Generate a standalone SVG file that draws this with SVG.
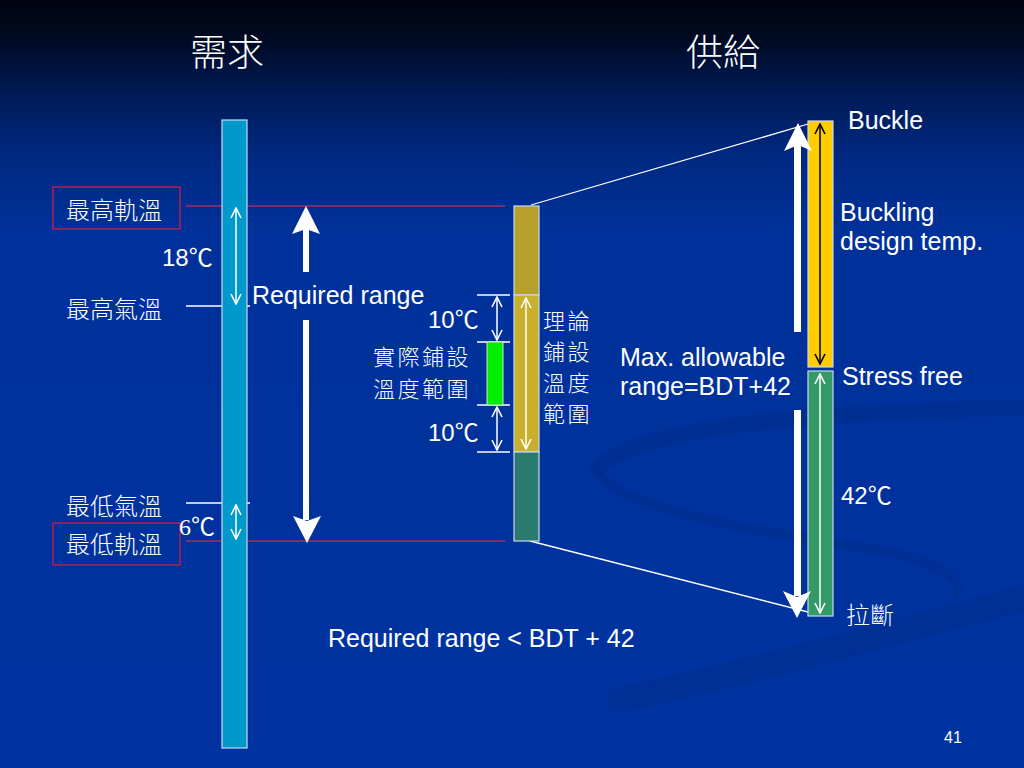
<svg xmlns="http://www.w3.org/2000/svg" width="1024" height="768" viewBox="0 0 1024 768">
<defs>
<linearGradient id="bg" x1="0" y1="0" x2="0" y2="1">
<stop offset="0" stop-color="#00040f"/>
<stop offset="0.05" stop-color="#000a22"/>
<stop offset="0.12" stop-color="#001a55"/>
<stop offset="0.2" stop-color="#00287f"/>
<stop offset="0.3" stop-color="#00319a"/>
<stop offset="1" stop-color="#0033a0"/>
</linearGradient>
<marker id="ow" viewBox="0 0 12 12" refX="11" refY="6" markerWidth="12" markerHeight="12" markerUnits="userSpaceOnUse" orient="auto-start-reverse">
<path d="M1,1 L11,6 L1,11" fill="none" stroke="#ffffff" stroke-width="1.6"/>
</marker>
<marker id="ob" viewBox="0 0 12 12" refX="11" refY="6" markerWidth="12" markerHeight="12" markerUnits="userSpaceOnUse" orient="auto-start-reverse">
<path d="M1,1 L11,6 L1,11" fill="none" stroke="#000000" stroke-width="1.6"/>
</marker>
<style>
.t{font-family:"Liberation Sans",Arial,"Noto Sans CJK TC",sans-serif;font-size:25px;fill:#ffffff}
.c{font-family:"Noto Sans CJK TC","Noto Sans CJK SC",sans-serif;font-size:24px;fill:#ffffff;font-weight:300}
.cs{font-family:"Noto Sans CJK TC","Noto Sans CJK SC",sans-serif;font-size:22px;fill:#ffffff;font-weight:300;letter-spacing:2.5px}
.deg{font-family:"Liberation Sans",Arial,"Noto Sans CJK TC",sans-serif;font-size:24px;fill:#ffffff}
.bar{stroke:#c8d8ee;stroke-width:1.2}
.thin{stroke:#ffffff;stroke-width:1.5;fill:none}
.red{stroke:#a0305f;stroke-width:1.5}
.box{fill:none;stroke:#b02050;stroke-width:1.5}
.sw{fill:none;stroke:#002a88;stroke-linecap:round;opacity:0.4}
</style>
</defs>
<rect x="0" y="0" width="1024" height="768" fill="url(#bg)"/>
<g id="background-swoosh">
<path class="sw" d="M598 468 C 640 425, 820 412, 1024 408" stroke-width="16"/>
<path class="sw" d="M598 470 C 610 510, 780 535, 890 552 C 950 565, 965 585, 955 595" stroke-width="10"/>
<path class="sw" d="M620 700 C 760 670, 920 625, 1024 598" stroke-width="26"/>
</g>

<g id="titles">
<text class="c" x="190" y="66" style="font-size:37px">需求</text>
<text class="c" x="686" y="66" style="font-size:37px">供給</text>
</g>

<g id="connectors">
<line class="red" x1="186" y1="206" x2="505" y2="206"/>
<line class="red" x1="186" y1="541" x2="505" y2="541"/>
<line class="thin" x1="186" y1="306" x2="250" y2="306"/>
<line class="thin" x1="186" y1="503" x2="250" y2="503"/>
<line x1="531" y1="205" x2="808" y2="124" stroke="#ffffff" stroke-width="1.3"/>
<line x1="530" y1="541" x2="808" y2="612" stroke="#ffffff" stroke-width="1.3"/>
</g>

<g id="demand-bar">
<rect class="bar" x="222" y="120" width="25" height="628" fill="#0099cc"/>
<line class="thin" x1="236" y1="208" x2="236" y2="304" marker-start="url(#ow)" marker-end="url(#ow)"/>
<line class="thin" x1="236" y1="505" x2="236" y2="539" marker-start="url(#ow)" marker-end="url(#ow)"/>
</g>

<g id="label-max-rail">
<rect class="box" x="53" y="187" width="127" height="42"/>
<text class="c" x="66" y="219">最高軌溫</text>
</g>
<g id="label-max-air">
<text class="c" x="66" y="318">最高氣溫</text>
</g>
<g id="label-min-air">
<text class="c" x="66" y="515">最低氣溫</text>
</g>
<g id="label-min-rail">
<rect class="box" x="53" y="523" width="127" height="42"/>
<text class="c" x="66" y="553">最低軌溫</text>
</g>
<g id="label-18">
<text class="deg" x="162" y="266">18℃</text>
</g>
<g id="label-6">
<text class="deg" x="179" y="535" style="font-family:'Liberation Serif','Noto Sans CJK TC',serif">6℃</text>
</g>

<g id="required-range">
<path d="M306 206 L320 234 L306 229 L292 234 Z" fill="#ffffff"/>
<rect x="303" y="228" width="6" height="44" fill="#ffffff"/>
<rect x="303" y="320" width="6" height="200" fill="#ffffff"/>
<path d="M307 543 L293 516 L307 521 L321 516 Z" fill="#ffffff"/>
<text class="t" x="252" y="304">Required range</text>
</g>

<g id="theory-bar">
<rect class="bar" x="514" y="206" width="25" height="89" fill="#b8a02c"/>
<rect class="bar" x="514" y="295" width="25" height="157" fill="#c8b02c"/>
<rect class="bar" x="514" y="452" width="25" height="89" fill="#2a7a70"/>
<line class="thin" x1="526" y1="298" x2="526" y2="449" marker-start="url(#ow)" marker-end="url(#ow)"/>
<text class="cs" x="543" y="329"><tspan x="543" y="329">理論</tspan><tspan x="543" y="360">鋪設</tspan><tspan x="543" y="391">溫度</tspan><tspan x="543" y="422">範圍</tspan></text>
</g>

<g id="actual-range">
<line class="thin" x1="477" y1="295" x2="510" y2="295" stroke-width="1.2"/>
<line class="thin" x1="477" y1="342" x2="510" y2="342" stroke-width="1.2"/>
<line class="thin" x1="477" y1="405" x2="510" y2="405" stroke-width="1.2"/>
<line class="thin" x1="477" y1="452" x2="510" y2="452" stroke-width="1.2"/>
<rect x="487" y="342" width="16" height="63" fill="#00ee00" stroke="#c8f0c8" stroke-width="1"/>
<line class="thin" x1="497" y1="297" x2="497" y2="340" marker-start="url(#ow)" marker-end="url(#ow)"/>
<line class="thin" x1="497" y1="407" x2="497" y2="450" marker-start="url(#ow)" marker-end="url(#ow)"/>
<text class="deg" x="428" y="328">10℃</text>
<text class="deg" x="428" y="441">10℃</text>
<text class="cs" x="373" y="365"><tspan x="373" y="365">實際鋪設</tspan><tspan x="373" y="397">溫度範圍</tspan></text>
</g>

<g id="supply-bar">
<rect class="bar" x="808" y="121" width="25" height="246" fill="#ffcc00"/>
<rect class="bar" x="808" y="371" width="25" height="245" fill="#339966"/>
<line x1="820" y1="124" x2="820" y2="364" stroke="#000000" stroke-width="1.5" marker-start="url(#ob)" marker-end="url(#ob)"/>
<line class="thin" x1="820" y1="374" x2="820" y2="613" marker-start="url(#ow)" marker-end="url(#ow)"/>
</g>

<g id="max-allowable">
<path d="M798 123 L812 151 L798 145 L784 151 Z" fill="#ffffff"/>
<rect x="794" y="144" width="7" height="188" fill="#ffffff"/>
<rect x="794" y="410" width="7" height="186" fill="#ffffff"/>
<path d="M797 618 L783 591 L797 597 L811 591 Z" fill="#ffffff"/>
<text class="t" x="620" y="366"><tspan x="620" y="366">Max. allowable</tspan><tspan x="620" y="395">range=BDT+42</tspan></text>
</g>

<g id="supply-labels">
<text class="t" x="848" y="129">Buckle</text>
<text class="t" x="840" y="221"><tspan x="840" y="221">Buckling</tspan><tspan x="840" y="250">design temp.</tspan></text>
<text class="t" x="842" y="385">Stress free</text>
<text class="deg" x="841" y="504">42℃</text>
<text class="c" x="846" y="624">拉斷</text>
</g>

<g id="footer">
<text class="t" x="328" y="647">Required range &lt; BDT + 42</text>
<text class="t" x="944" y="743" style="font-size:16px">41</text>
</g>
</svg>
